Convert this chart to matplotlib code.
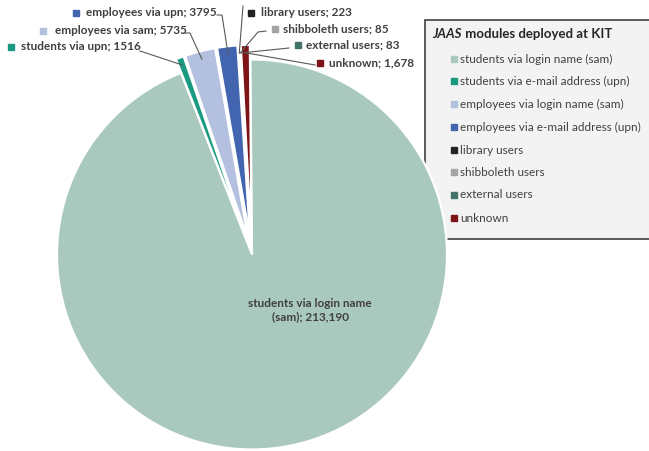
import matplotlib.pyplot as plt
from matplotlib.patches import Rectangle
import numpy as np

plt.rcParams['font.family'] = ['Lato', 'DejaVu Sans']

# data
categories = ["students via login name (sam)", "students via e-mail address (upn)",
              "employees via login name (sam)", "employees via e-mail address (upn)",
              "library users", "shibboleth users", "external users", "unknown"]
short_labels = ["students via login name\n(sam)", "students via upn", "employees via sam",
                "employees via upn", "library users", "shibboleth users", "external users", "unknown"]
values = [213190, 1516, 5735, 3795, 223, 85, 83, 1678]
value_text = ["213,190", "1516", "5735", "3795", "223", "85", "83", "1,678"]
colors = ["#A9C8BE", "#1A9A80", "#B4C0E0", "#4364AE", "#222222", "#A5A5A5", "#44736A", "#7F1416"]

W, H = 649, 451
CX, CY, R = 252, 254.5, 195


def px(x, y):
    # pixel (from top-left) -> pie data coords
    return (x - CX) / R, (CY - y) / R


fig = plt.figure(figsize=(W / 100, H / 100), dpi=100)

# legend box behind the pie
fig.add_artist(Rectangle((425 / W, 1 - 239 / H), 300 / W, 219 / H, transform=fig.transFigure,
                         facecolor="#F2F3F2", edgecolor="#404040", linewidth=1.2, zorder=-1))

ax = fig.add_axes([0, 0, 1, 1])
ax.patch.set_visible(False)

explode = [0.0] + [0.075] * 7
wedges, _ = ax.pie(values, colors=colors, startangle=90.5, counterclock=False, explode=explode,
                   radius=1, center=(0, 0),
                   wedgeprops=dict(edgecolor="white", linewidth=1.6))
ax.set_xlim(-CX / R, (W - CX) / R)
ax.set_ylim(-(H - CY) / R, CY / R)
ax.set_aspect("equal")
ax.axis("off")

# main label
mx, my = px(310, 310)
ax.text(mx, my, short_labels[0] + "; " + value_text[0], ha="center", va="center",
        multialignment="center", fontsize=8.5, fontweight="bold", color="#404040")

# outside labels: marker pos, text x, line path start (pixels)
label_pos = {1: (11, 47, 21), 2: (43, 31, 55), 3: (76, 13, 86), 4: (251, 13, 261),
             5: (275, 29, 283), 6: (298, 45, 306), 7: (320, 63, 329)}
line_start = {1: [(140, 51)], 2: [(183, 33), (190, 33)], 3: [(217, 15), (222, 15)],
              4: [(243, 6)], 5: [(266, 31), (258, 32)], 6: [(289, 48)], 7: [(315, 65)]}
for i, (mxp, myp, tx) in label_pos.items():
    ax.plot(*px(mxp, myp), marker="s", ms=5, color=colors[i], clip_on=False)
    ax.text(*px(tx, myp), short_labels[i] + "; " + value_text[i], ha="left", va="center",
            fontsize=8.5, fontweight="bold", color="#404040")
    w = wedges[i]
    mid = np.deg2rad((w.theta1 + w.theta2) / 2)
    ex = w.center[0] + w.r * 0.96 * np.cos(mid)
    ey = w.center[1] + w.r * 0.96 * np.sin(mid)
    pts = [px(*p) for p in line_start[i]] + [(ex, ey)]
    ax.plot([p[0] for p in pts], [p[1] for p in pts], color="#595959", lw=0.8, zorder=5)

# legend
t1 = fig.text(432 / W, 1 - 34 / H, "JAAS", style="italic", fontweight="bold", fontsize=9.5,
              color="#262626", va="center")
ax.annotate(" modules deployed at KIT", xy=(1, 0.5), xycoords=t1, va="center", ha="left",
            fontweight="bold", fontsize=9.5, color="#262626", annotation_clip=False)
ly = [59, 81, 104, 127, 150, 172, 195, 218]
for i, name in enumerate(categories):
    ax.plot(*px(454, ly[i]), marker="s", ms=5, color=colors[i], clip_on=False)
    ax.text(*px(460, ly[i]), name, ha="left", va="center", fontsize=8.5, color="#404040")

fig.savefig("out.png", dpi=100)
